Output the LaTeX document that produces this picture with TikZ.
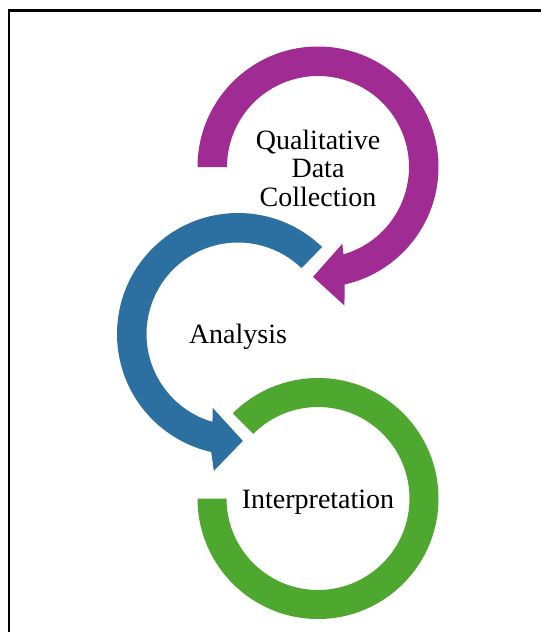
\documentclass[tikz,border=0pt]{standalone}
\usepackage{fontspec}
\setmainfont{Liberation Serif}
\usepackage{tikz}

\begin{document}
\begin{tikzpicture}[x=0.75pt,y=0.75pt,yscale=-1,xscale=1,
  steptext/.style={inner sep=0.75pt, font=\fontsize{21}{21.4}\selectfont, align=center}]
\useasboundingbox (0,0) rectangle (541,632);
%Straight Lines: frame, left and top
\draw [line width=1.6]  (9,632) -- (9,10.5) -- (541,10.5) ;
%Shape: Circular Arrow (top)
\fill [color={rgb, 255:red, 160; green, 43; blue, 147 }, shift={(318,167)}] (180:120.5) arc [start angle=180, end angle=437.2, radius=120.5] -- (439.2:141) -- (452.6:110) -- (432.4:80.5) -- (433.8:91) arc [start angle=433.8, end angle=180, radius=91] -- cycle ;
%Shape: Circular Arrow (middle)
\fill [color={rgb, 255:red, 43; green, 112; blue, 161 }, shift={(238,334)}] (-46:121) arc [start angle=-46, end angle=-257.2, radius=121] -- (-260:139) -- (-272.6:107) -- (-251:78) -- (-253.8:91.5) arc [start angle=-253.8, end angle=-46, radius=91.5] -- cycle ;
%Shape: Arc (bottom)
\fill [color={rgb, 255:red, 78; green, 167; blue, 46 }, shift={(318,498.5)}] (180:120.5) arc [start angle=180, end angle=-135, radius=120.5] -- (-135:91.5) arc [start angle=-135, end angle=180, radius=91.5] -- cycle ;
% Text Node
\draw (318,168) node (qdc) [steptext] {Qualitative\\Data\\Collection};
% Text Node
\draw (238,343) node (analysis) [steptext, anchor=base] {Analysis};
% Text Node
\draw (318,508) node (interp) [steptext, anchor=base] {Interpretation};
\end{tikzpicture}
\end{document}
